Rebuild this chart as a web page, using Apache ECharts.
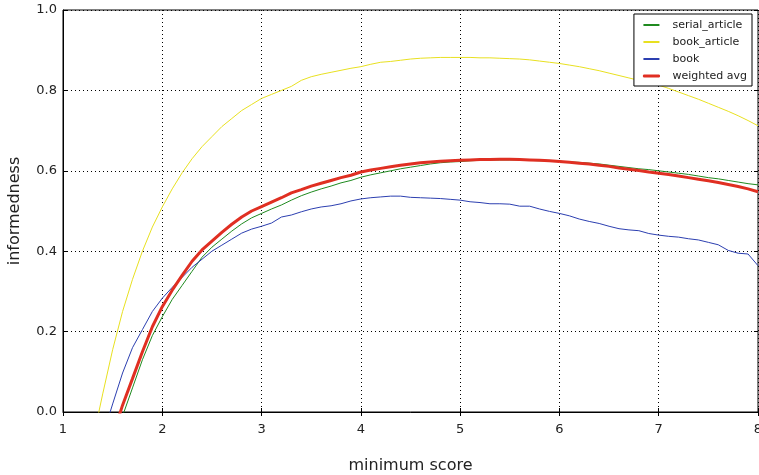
<!DOCTYPE html>
<html>
<head>
<meta charset="utf-8">
<script src="https://cdn.jsdelivr.net/npm/echarts@6/dist/echarts.min.js"></script>
<style>
  html, body { margin: 0; padding: 0; background: #fff; }
  #chart { width: 759px; height: 475px; }
</style>
</head>
<body>
<div id="chart"></div>
<script>
// minimum score, step 0.1
var xs = [1.3, 1.4, 1.5, 1.6, 1.7, 1.8, 1.9, 2.0, 2.1, 2.2, 2.3, 2.4, 2.5, 2.6, 2.7, 2.8, 2.9,
  3.0, 3.1, 3.2, 3.3, 3.4, 3.5, 3.6, 3.7, 3.8, 3.9, 4.0, 4.1, 4.2, 4.3, 4.4, 4.5, 4.6, 4.7, 4.8, 4.9,
  5.0, 5.1, 5.2, 5.3, 5.4, 5.5, 5.6, 5.7, 5.8, 5.9, 6.0, 6.1, 6.2, 6.3, 6.4, 6.5, 6.6, 6.7, 6.8, 6.9,
  7.0, 7.1, 7.2, 7.3, 7.4, 7.5, 7.6, 7.7, 7.8, 7.9, 8.0];

var serialArticle = [null, null, null, -0.01, 0.06, 0.13, 0.19, 0.237, 0.28, 0.315, 0.35, 0.385, 0.41, 0.43, 0.45, 0.468, 0.483,
  0.494, 0.505, 0.515, 0.527, 0.538, 0.547, 0.555, 0.562, 0.57, 0.576, 0.584, 0.59, 0.595, 0.6, 0.605, 0.609, 0.613, 0.617, 0.62, 0.622,
  0.623, 0.625, 0.626, 0.627, 0.627, 0.627, 0.627, 0.626, 0.625, 0.625, 0.624, 0.622, 0.621, 0.619, 0.617, 0.614, 0.611, 0.608, 0.605, 0.603,
  0.6, 0.597, 0.594, 0.591, 0.587, 0.583, 0.58, 0.576, 0.572, 0.568, 0.565];

var bookArticle = [-0.07, 0.045, 0.155, 0.25, 0.33, 0.4, 0.46, 0.51, 0.555, 0.595, 0.63, 0.66, 0.685, 0.71, 0.73, 0.75, 0.765,
  0.78, 0.79, 0.8, 0.81, 0.825, 0.834, 0.84, 0.845, 0.85, 0.855, 0.859, 0.865, 0.87, 0.872, 0.875, 0.878, 0.88, 0.881, 0.882, 0.882,
  0.882, 0.882, 0.881, 0.881, 0.88, 0.879, 0.878, 0.876, 0.873, 0.87, 0.867, 0.863, 0.859, 0.854, 0.849, 0.843, 0.837, 0.831, 0.825, 0.819,
  0.813, 0.805, 0.796, 0.787, 0.778, 0.768, 0.758, 0.748, 0.737, 0.725, 0.712];

var book = [null, -0.06, 0.02, 0.097, 0.16, 0.205, 0.25, 0.283, 0.31, 0.335, 0.36, 0.38, 0.4, 0.415, 0.43, 0.445, 0.455,
  0.462, 0.47, 0.485, 0.49, 0.498, 0.505, 0.51, 0.513, 0.518, 0.525, 0.53, 0.533, 0.535, 0.537, 0.537, 0.534, 0.533, 0.532, 0.531, 0.529,
  0.527, 0.523, 0.521, 0.518, 0.518, 0.517, 0.512, 0.512, 0.505, 0.499, 0.494, 0.488, 0.48, 0.474, 0.469, 0.462, 0.456, 0.453, 0.451, 0.444,
  0.44, 0.437, 0.435, 0.431, 0.428, 0.422, 0.416, 0.402, 0.395, 0.393, 0.364];

var weightedAvg = [null, null, -0.06, 0.017, 0.083, 0.15, 0.212, 0.262, 0.303, 0.34, 0.375, 0.403, 0.425, 0.447, 0.467, 0.485, 0.5,
  0.511, 0.522, 0.533, 0.545, 0.553, 0.562, 0.569, 0.576, 0.583, 0.589, 0.597, 0.602, 0.606, 0.61, 0.614, 0.617, 0.62, 0.622, 0.624, 0.625,
  0.626, 0.627, 0.628, 0.628, 0.629, 0.629, 0.628, 0.627, 0.626, 0.625, 0.623, 0.621, 0.619, 0.617, 0.614, 0.611, 0.607, 0.604, 0.601, 0.597,
  0.594, 0.591, 0.587, 0.583, 0.579, 0.575, 0.571, 0.566, 0.561, 0.555, 0.548];

var xTicks = [1, 2, 3, 4, 5, 6, 7, 8];
var yTicks = [0.0, 0.2, 0.4, 0.6, 0.8, 1.0];

function pairs(ys) {
  var out = [];
  for (var i = 0; i < xs.length; i++) {
    if (ys[i] !== null) out.push([xs[i], ys[i]]);
  }
  return out;
}

var font = 'DejaVu Sans';
var chart = echarts.init(document.getElementById('chart'));

var dotted = { show: true, lineStyle: { color: '#000', type: [1, 3], width: 1 } };
var inTick = { show: true, inside: true, length: 4, lineStyle: { color: '#000' } };

var colors = {
  serial: '#1f8a1f',
  bookArt: '#e8e020',
  book: '#2c3fb0',
  avg: '#e02f22'
};

function lineSeries(name, ys, color, width) {
  return {
    name: name,
    type: 'line',
    data: pairs(ys),
    symbol: 'none',
    clip: true,
    lineStyle: { color: color, width: width },
    itemStyle: { color: color },
    z: width > 2 ? 5 : 3
  };
}

chart.setOption({
  animation: false,
  backgroundColor: '#fff',
  grid: {
    left: 63, right: 1, top: 10, bottom: 63,
    outerBoundsMode: 'none',
    containLabel: false,
    show: true, borderColor: '#000', borderWidth: 1, backgroundColor: '#fff'
  },
  legend: {
    orient: 'vertical',
    right: 7, top: 14,
    padding: [5, 5, 4, 9],
    itemGap: 5,
    itemWidth: 16,
    itemHeight: 2,
    icon: 'rect',
    borderColor: '#000',
    borderWidth: 1,
    borderRadius: 0,
    backgroundColor: '#fff',
    textStyle: { fontFamily: font, fontSize: 11, lineHeight: 12, color: '#222', padding: [0, 0, 0, 8] },
    data: [
      { name: 'serial_article', itemStyle: { color: colors.serial } },
      { name: 'book_article', itemStyle: { color: colors.bookArt } },
      { name: 'book', itemStyle: { color: colors.book } },
      { name: 'weighted avg', itemStyle: { color: colors.avg, borderColor: colors.avg, borderWidth: 1 } }
    ]
  },
  xAxis: [{
    type: 'value',
    min: 1, max: 8, interval: 1,
    name: 'minimum score',
    nameLocation: 'middle',
    nameGap: 46,
    nameTextStyle: { fontFamily: font, fontSize: 16, color: '#222' },
    axisLine: { show: true, lineStyle: { color: '#000' } },
    axisTick: inTick,
    axisLabel: {
      fontFamily: font, fontSize: 13, color: '#222', margin: 11,
      formatter: function (v) { return xTicks.indexOf(v) >= 0 ? String(v) : ''; }
    },
    splitLine: dotted
  }, {
    type: 'value',
    position: 'top',
    min: 1, max: 8, interval: 1,
    axisLine: { show: false },
    axisTick: inTick,
    axisLabel: { show: false },
    splitLine: { show: false }
  }],
  yAxis: [{
    type: 'value',
    min: 0, max: 1, interval: 0.2,
    name: 'informedness',
    nameLocation: 'middle',
    nameGap: 40,
    nameRotate: 90,
    nameTextStyle: { fontFamily: font, fontSize: 16, color: '#222' },
    axisLine: { show: true, lineStyle: { color: '#000' } },
    axisTick: inTick,
    axisLabel: {
      fontFamily: font, fontSize: 13, color: '#222', margin: 6,
      formatter: function (v) { return v.toFixed(1); }
    },
    splitLine: dotted
  }, {
    type: 'value',
    position: 'right',
    min: 0, max: 1, interval: 0.2,
    axisLine: { show: false },
    axisTick: inTick,
    axisLabel: { show: false },
    splitLine: { show: false }
  }],
  series: [
    lineSeries('serial_article', serialArticle, colors.serial, 1),
    lineSeries('book_article', bookArticle, colors.bookArt, 1),
    lineSeries('book', book, colors.book, 1),
    lineSeries('weighted avg', weightedAvg, colors.avg, 3)
  ]
});
</script>
</body>
</html>
